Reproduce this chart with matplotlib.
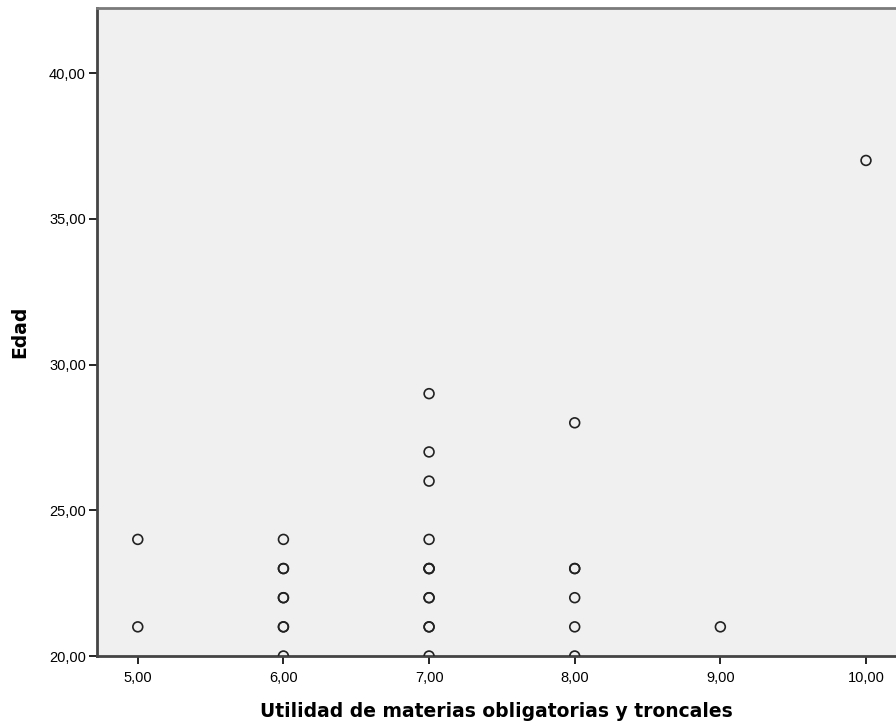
import matplotlib
matplotlib.use("Agg")
import matplotlib.pyplot as plt
from matplotlib.ticker import FuncFormatter

plt.rcParams['font.family'] = ['Liberation Sans', 'DejaVu Sans']

# Data (duplicates included where markers appear bold)
utilidad = [5, 5,
            6, 6, 6, 6, 6, 6, 6, 6,
            7, 7, 7, 7, 7, 7, 7, 7, 7, 7, 7, 7,
            8, 8, 8, 8, 8, 8,
            9, 10]
edad = [21, 24,
        20, 21, 21, 22, 22, 23, 23, 24,
        20, 21, 21, 22, 22, 23, 23, 24, 26, 27, 29, 23,
        20, 21, 22, 23, 23, 28,
        21, 37]
xticks = [5, 6, 7, 8, 9, 10]
yticks = [20, 25, 30, 35, 40]

fig = plt.figure(figsize=(8.96, 7.28), dpi=100)
ax = fig.add_axes([97 / 896, 1 - 656 / 728, 1 - 97 / 896, (656 - 8) / 728])
ax.set_facecolor('#f0f0f0')

ax.scatter(utilidad, edad, s=50, facecolors='none', edgecolors='#222222',
           linewidths=1.2, zorder=3, clip_on=True)

ax.set_xlim(4.72, 10.206)
ax.set_ylim(20, 42.23)
ax.set_xticks(xticks)
ax.set_yticks(yticks)
fmt = FuncFormatter(lambda v, p: f"{v:.2f}".replace('.', ','))
ax.xaxis.set_major_formatter(fmt)
ax.yaxis.set_major_formatter(fmt)
ax.tick_params(axis='both', direction='out', length=6, width=1.2, colors='black',
               labelsize=10.5)
ax.tick_params(axis='x', pad=5)
ax.tick_params(axis='y', pad=2)

for s in ['left', 'bottom']:
    ax.spines[s].set_color('#444444')
    ax.spines[s].set_linewidth(2)
ax.spines['top'].set_color('#7a7a7a')
ax.spines['top'].set_linewidth(2)
ax.spines['right'].set_visible(False)

ax.set_xlabel('Utilidad de materias obligatorias y troncales', fontsize=13.5,
              fontweight='bold', family=['DejaVu Sans'], labelpad=12)
ax.set_ylabel('Edad', fontsize=13.5, fontweight='bold', family=['DejaVu Sans'],
              labelpad=14)

fig.savefig('out.png', dpi=100)
